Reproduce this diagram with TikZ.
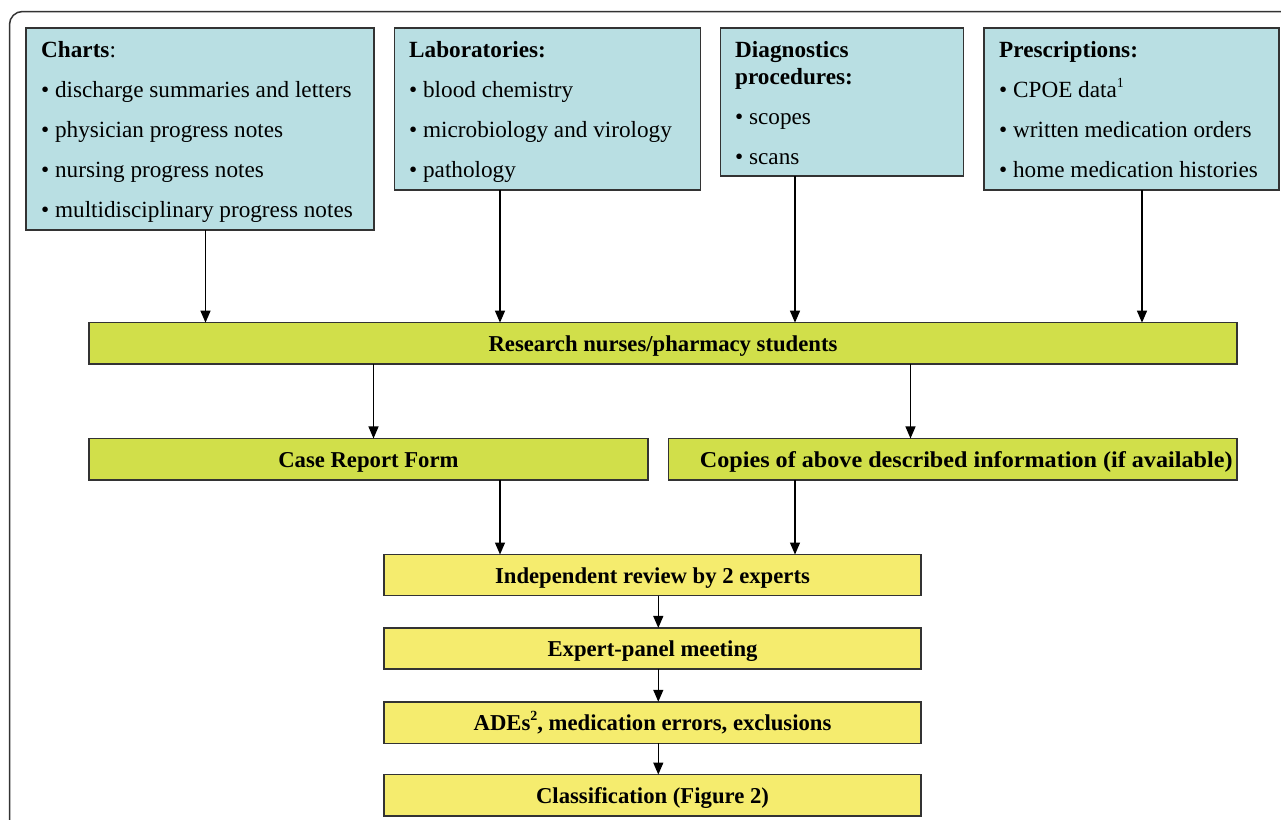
\documentclass[tikz,border=0pt]{standalone}
\usepackage{fontspec}
\setmainfont{Liberation Serif}
\usetikzlibrary{arrows.meta}
\definecolor{cyanbox}{HTML}{B9DFE3}
\definecolor{greenbox}{HTML}{D1DF4A}
\definecolor{yellowbox}{HTML}{F5EC6E}
\definecolor{edge}{HTML}{333333}
\begin{document}
\begin{tikzpicture}[x=1pt,y=-1pt,
  boxbase/.style={draw=edge,line width=1.5pt,inner sep=0pt,outer sep=0pt,rectangle,text height=16pt,text depth=0pt},
  cbox/.style={boxbase,fill=cyanbox},
  gbox/.style={boxbase,fill=greenbox,font=\fontsize{22.7}{26}\selectfont\bfseries},
  ybox/.style={boxbase,fill=yellowbox,font=\fontsize{22.7}{26}\selectfont\bfseries},
  txt/.style={anchor=base west,inner sep=0pt,font=\fontsize{23.2}{26}\selectfont},
  arr/.style={draw=black,line width=1.3pt,-{Triangle[length=12pt,width=10pt]}}
]
\useasboundingbox (0,0) rectangle (1281,819);
\begin{scope}
\clip (0,0) rectangle (1281,819);
\draw[edge,line width=1.5pt,rounded corners=13pt] (9.5,11.5) rectangle (1320,860);
\end{scope}

% top boxes
\node[cbox,minimum width=348pt,minimum height=202pt] (charts) at (200,129) {};
\node[cbox,minimum width=306pt,minimum height=162pt] (labs) at (547.7,109) {};
\node[cbox,minimum width=242.6pt,minimum height=148pt] (diag) at (842,102) {};
\node[cbox,minimum width=295pt,minimum height=162pt] (presc) at (1131.5,109) {};

% texts in top boxes
\node[txt] (t1) at (41,57) {\textbf{Charts}:};
\node[txt] (t2) at (41,97) {• discharge summaries and letters};
\node[txt] (t3) at (41,137) {• physician progress notes};
\node[txt] (t4) at (41,177) {• nursing progress notes};
\node[txt] (t5) at (41,217) {• multidisciplinary progress notes};

\node[txt] (l1) at (409,57) {\textbf{Laboratories:}};
\node[txt] (l2) at (409,97) {• blood chemistry};
\node[txt] (l3) at (409,137) {• microbiology and virology};
\node[txt] (l4) at (409,177) {• pathology};

\node[txt] (d1) at (735,57) {\textbf{Diagnostics}};
\node[txt] (d2) at (735,84) {\textbf{procedures:}};
\node[txt] (d3) at (735,124) {• scopes};
\node[txt] (d4) at (735,164) {• scans};

\node[txt] (p1) at (999,57) {\textbf{Prescriptions:}};
\node[txt] (p2) at (999,97) {• CPOE data\raisebox{0.42em}{\fontsize{14}{16}\selectfont 1}};
\node[txt] (p3) at (999,137) {• written medication orders};
\node[txt] (p4) at (999,177) {• home medication histories};

% green boxes
\node[gbox,minimum width=1148pt,minimum height=41.3pt] (rn) at (663,343.3) {Research nurses/pharmacy students};
\node[gbox,minimum width=558.7pt,minimum height=41.5pt] (crf) at (368.4,459.2) {Case Report Form};
\node[gbox,minimum width=568.5pt,minimum height=41.5pt] (cop) at (952.7,459.2) {\hspace*{27pt}\scalebox{1.064}[1]{Copies of above described information (if available)}};

% yellow boxes
\node[ybox,minimum width=537pt,minimum height=41pt] (ir) at (652.5,575) {Independent review by 2 experts};
\node[ybox,minimum width=537pt,minimum height=41pt] (ep) at (652.5,648.4) {Expert-panel meeting};
\node[ybox,minimum width=537pt,minimum height=41.5pt] (ade) at (652.5,722.5) {ADEs\raisebox{0.42em}{\fontsize{14}{16}\selectfont\bfseries 2}, medication errors, exclusions};
\node[ybox,minimum width=537pt,minimum height=41.5pt] (cl) at (652.5,795.3) {Classification (Figure 2)};

% arrow x positions
\coordinate (xa) at (205.5,0);
\coordinate (xb) at (500,0);
\coordinate (xc) at (795,0);
\coordinate (xd) at (1142,0);
\coordinate (xe) at (373.5,0);
\coordinate (xf) at (910.5,0);
\coordinate (xg) at (658.3,0);

\draw[arr] (charts.south -| xa) -- (rn.north -| xa);
\draw[arr] (labs.south -| xb) -- (rn.north -| xb);
\draw[arr] (diag.south -| xc) -- (rn.north -| xc);
\draw[arr] (presc.south -| xd) -- (rn.north -| xd);
\draw[arr] (rn.south -| xe) -- (crf.north -| xe);
\draw[arr] (rn.south -| xf) -- (cop.north -| xf);
\draw[arr] (crf.south -| xb) -- (ir.north -| xb);
\draw[arr] (cop.south -| xc) -- (ir.north -| xc);
\draw[arr] (ir.south -| xg) -- (ep.north -| xg);
\draw[arr] (ep.south -| xg) -- (ade.north -| xg);
\draw[arr] (ade.south -| xg) -- (cl.north -| xg);
\end{tikzpicture}
\end{document}
